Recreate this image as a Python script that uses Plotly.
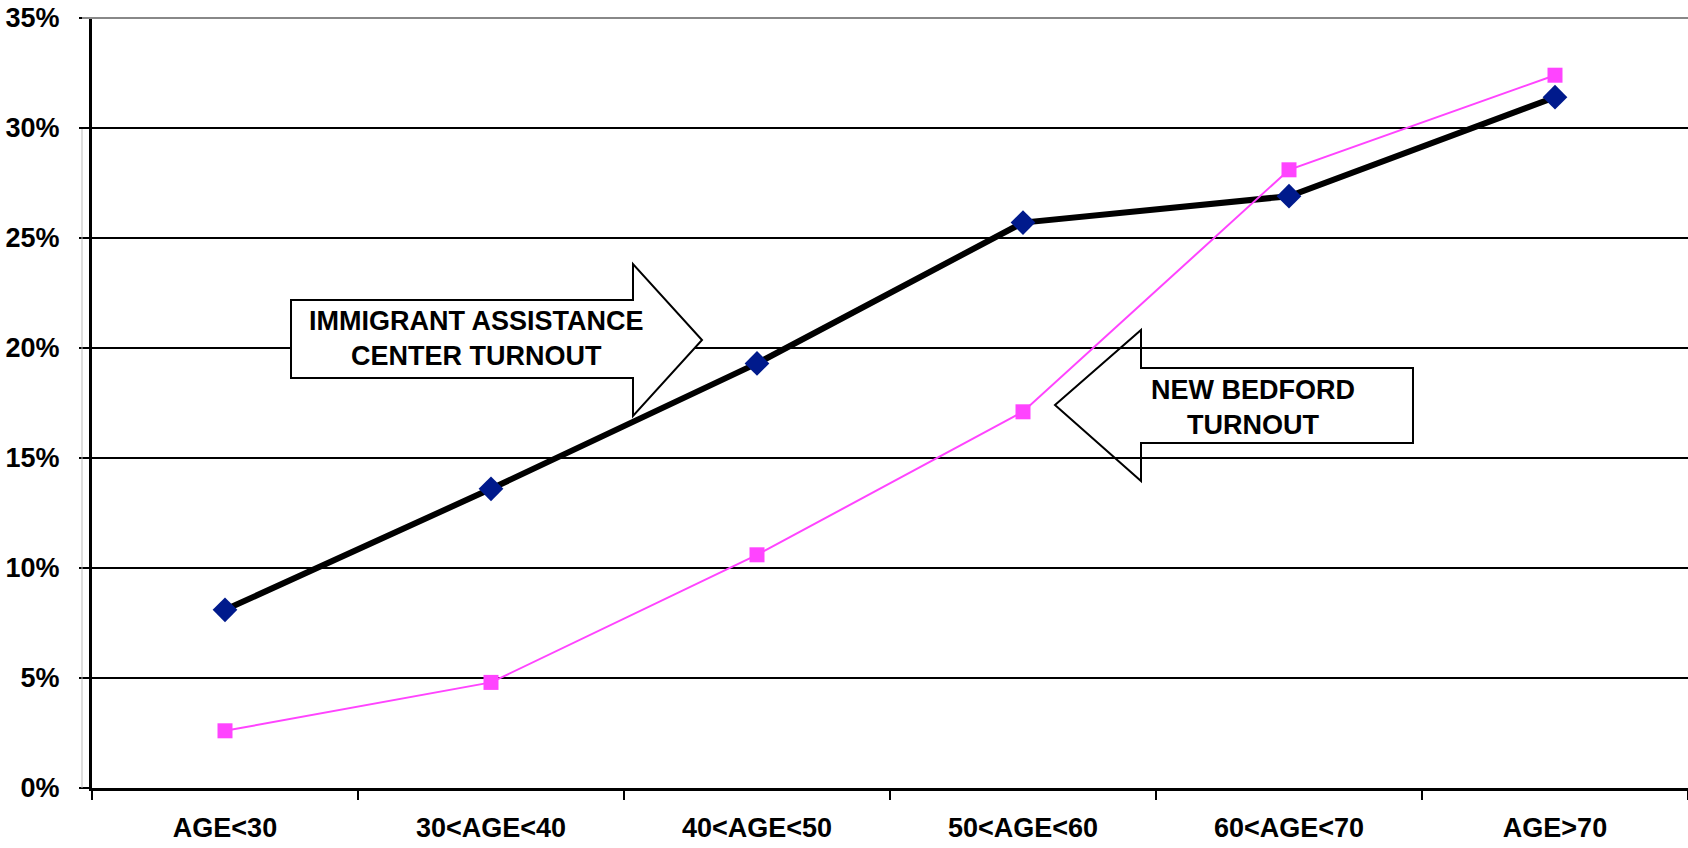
import plotly.graph_objects as go

# ---------------- data ----------------
categories = ["AGE<30", "30<AGE<40", "40<AGE<50", "50<AGE<60", "60<AGE<70", "AGE>70"]
immigrant_center = [8.1, 13.6, 19.3, 25.7, 26.9, 31.4]
new_bedford = [2.6, 4.8, 10.6, 17.1, 28.1, 32.4]
y_ticks = [0, 5, 10, 15, 20, 25, 30, 35]

W, H = 1688, 848
L, R, T, B = 92, 0, 18, 60
PW, PH = W - L - R, H - T - B


def px(x):
    return (x - L) / PW


def py(y):
    return (H - B - y) / PH


def path(points):
    return "M " + " L ".join(f"{px(a):.5f},{py(b):.5f}" for a, b in points) + " Z"


fig = go.Figure()
fig.add_trace(go.Scatter(
    x=categories, y=immigrant_center, mode="lines+markers",
    line=dict(color="black", width=6),
    marker=dict(symbol="diamond", size=19, color="#001A8C"),
    name="Immigrant Assistance Center"))
fig.add_trace(go.Scatter(
    x=categories, y=new_bedford, mode="lines+markers",
    line=dict(color="#FF44FF", width=2),
    marker=dict(symbol="square", size=15, color="#FF44FF"),
    name="New Bedford"))

font = dict(family="Liberation Sans, Arial, sans-serif", size=27, color="black", weight="bold")

# right-pointing arrow (immigrant)
right_arrow = [(291, 300), (633, 300), (633, 264), (702, 340), (633, 416), (633, 378), (291, 378)]
# left-pointing arrow (new bedford)
left_arrow = [(1055, 405), (1141, 330), (1141, 368), (1413, 368), (1413, 443), (1141, 443), (1141, 481)]

shapes = [
    dict(type="path", xref="paper", yref="paper", path=path(left_arrow),
         fillcolor="white", line=dict(color="black", width=2), layer="below"),
    dict(type="path", xref="paper", yref="paper", path=path(right_arrow),
         fillcolor="white", line=dict(color="black", width=2), layer="above"),
    dict(type="line", xref="paper", yref="paper", x0=px(82), x1=1, y0=1, y1=1,
         line=dict(color="#888888", width=2), layer="above"),
    dict(type="line", xref="paper", yref="paper", x0=px(82), x1=px(82), y0=0, y1=py(129),
         line=dict(color="#BBBBBB", width=1), layer="above"),
]

afont = dict(family="Liberation Sans, Arial, sans-serif", size=27, color="black", weight="bold")
annotations = [
    dict(text="IMMIGRANT ASSISTANCE<br>CENTER TURNOUT", x=px(476), y=py(338),
         xref="paper", yref="paper", showarrow=False, font=afont,
         xanchor="center", yanchor="middle", align="center"),
    dict(text="NEW BEDFORD<br>TURNOUT", x=px(1253), y=py(407),
         xref="paper", yref="paper", showarrow=False, font=afont,
         xanchor="center", yanchor="middle", align="center"),
]

fig.update_layout(
    width=W, height=H,
    margin=dict(l=L, r=R, t=T, b=B, pad=0),
    paper_bgcolor="white", plot_bgcolor="white",
    showlegend=False,
    shapes=shapes, annotations=annotations,
    xaxis=dict(
        type="category", categoryorder="array", categoryarray=categories,
        range=[-0.5, len(categories) - 0.5],
        showgrid=False, showline=True, linecolor="black", linewidth=3,
        ticks="outside", tickson="boundaries", ticklen=9, tickwidth=2, tickcolor="black",
        tickfont=font, ticklabelstandoff=14, zeroline=False,
    ),
    yaxis=dict(
        range=[0, 35], tickvals=y_ticks, ticktext=[f"{v}%" for v in y_ticks],
        showgrid=True, gridcolor="black", gridwidth=2,
        showline=True, linecolor="black", linewidth=3,
        ticks="outside", ticklen=10, tickwidth=2, tickcolor="black",
        tickfont=font, ticklabelstandoff=14, zeroline=False,
    ),
)

fig.write_html("out.html", config={"displayModeBar": False},
               post_script="document.body.style.margin='0px';")
